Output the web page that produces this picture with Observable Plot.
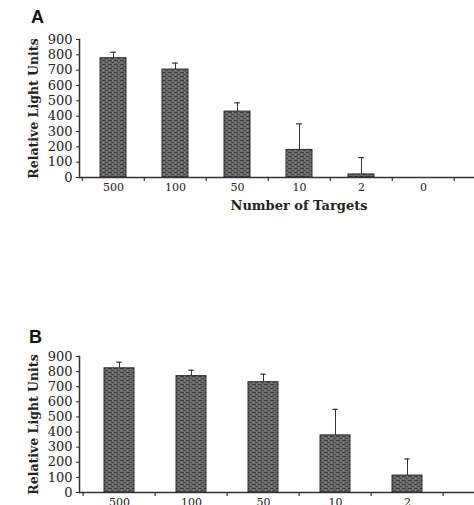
<!DOCTYPE html>
<html>
<head>
<meta charset="utf-8">
<script src="https://cdn.jsdelivr.net/npm/d3@7"></script>
<script src="https://cdn.jsdelivr.net/npm/@observablehq/plot@0.6"></script>
<style>
  html, body { margin: 0; padding: 0; background: #fff; overflow: hidden; }
  #wrap { position: relative; width: 474px; height: 505px; overflow: hidden; }
  .panel { position: absolute; left: 0; width: 520px; }
  .panel svg { max-width: none !important; width: 520px; height: auto; }
  .tag { position: absolute; font-family: "Liberation Sans", Arial, sans-serif; font-weight: bold; font-size: 18px; color: #111; line-height: 1; }
</style>
</head>
<body>
<div id="wrap"></div>
<script>
// Panel A
const catsA = ["500", "100", "50", "10", "2", "0", "5"];
const valsA = [778, 704, 430, 180, 20, 0, 0];
const errA  = [817, 746, 487, 350, 130, null, null];
// Panel B
const catsB = ["500", "100", "50", "10", "2", "0"];
const valsB = [822, 770, 730, 378, 112, 0];
const errB  = [862, 809, 783, 550, 222, null];
// Shared axis ticks
const yTicks = [0, 100, 200, 300, 400, 500, 600, 700, 800, 900];
const yLabel = "Relative Light Units";
const xLabel = "Number of Targets";

const W = 520, L = 79, R0 = 81, R1 = 518;

function addPattern(svg, id) {
  const ns = "http://www.w3.org/2000/svg";
  const defs = document.createElementNS(ns, "defs");
  const pat = document.createElementNS(ns, "pattern");
  pat.setAttribute("id", id);
  pat.setAttribute("patternUnits", "userSpaceOnUse");
  pat.setAttribute("width", "6");
  pat.setAttribute("height", "4");
  const parts = [
    [0, 0, 6, 4, "#6a6a6a"],
    [0, 0, 4, 1, "#3c3c3c"],
    [3, 2, 3, 1, "#4a4a4a"],
    [1, 2, 1, 1, "#8c8c8c"],
    [4, 0, 1, 1, "#8a8a8a"]
  ];
  for (const [x, y, w, h, c] of parts) {
    const r = document.createElementNS(ns, "rect");
    r.setAttribute("x", x); r.setAttribute("y", y);
    r.setAttribute("width", w); r.setAttribute("height", h);
    r.setAttribute("fill", c);
    pat.appendChild(r);
  }
  defs.appendChild(pat);
  svg.insertBefore(defs, svg.firstChild);
}

function panel(cats, vals, errs, o) {
  const data = cats.map((c, i) => ({cat: c, v: vals[i], e: errs[i]}));
  const step = (R1 - R0) / cats.length;
  const bw = step * 0.42;
  const capInset = (bw - 6) / 2;
  const pxPerUnit = (o.height - o.marginTop - o.marginBottom) / 900;
  const tickLen = 4 / pxPerUnit;
  const marks = [
    Plot.barY(data.filter(d => d.v > 0), {x: "cat", y: "v", fill: `url(#${o.pid})`, stroke: "#2a2a2a", strokeWidth: 1}),
    Plot.ruleX(data.filter(d => d.e != null), {x: "cat", y1: "v", y2: "e", stroke: "#333", strokeWidth: 1}),
    Plot.tickY(data.filter(d => d.e != null), {x: "cat", y: "e", stroke: "#333", strokeWidth: 1.2, insetLeft: capInset, insetRight: capInset}),
    Plot.ruleY([0], {stroke: "#333", strokeWidth: 1.5}),
    Plot.ruleX(cats, {x: d => d, dx: -step / 2, y1: 0, y2: -tickLen, stroke: "#333", strokeWidth: 1.2}),
    Plot.frame({anchor: "left", stroke: "#333", strokeWidth: 1.5}),
    Plot.axisY({ticks: yTicks, tickSize: 3, tickPadding: 4, fontSize: 13, label: null, tickFormat: d => String(d)}),
    Plot.axisX({tickSize: 0, tickPadding: 6, fontSize: 11, label: null}),
    Plot.text([yLabel], {frameAnchor: "left", textAnchor: "middle", dx: -46, rotate: -90, fontWeight: "bold", fontSize: 12.5, fill: "#222"})
  ];
  if (o.xTitle) {
    marks.push(Plot.text([o.xTitle], {frameAnchor: "bottom", dy: 32, fontWeight: "bold", fontSize: 13, fill: "#222"}));
  }
  const svg = Plot.plot({
    width: W,
    height: o.height,
    marginLeft: L,
    marginRight: W - R1,
    marginTop: o.marginTop,
    marginBottom: o.marginBottom,
    x: {type: "band", domain: cats, range: [R0, R1], paddingInner: 0.58, paddingOuter: 0.29},
    y: {domain: [0, 900]},
    style: {fontFamily: "DejaVu Serif", color: "#222", background: "transparent", overflow: "visible", maxWidth: "none"},
    marks
  });
  addPattern(svg, o.pid);
  return svg;
}

const wrap = document.getElementById("wrap");

const a = panel(catsA, valsA, errA, {height: 240, marginTop: 39, marginBottom: 63, xTitle: xLabel, pid: "stipA"});
const da = document.createElement("div"); da.className = "panel"; da.style.top = "0px"; da.appendChild(a); wrap.appendChild(da);

const b = panel(catsB, valsB, errB, {height: 265, marginTop: 116, marginBottom: 13, pid: "stipB"});
const db = document.createElement("div"); db.className = "panel"; db.style.top = "240px"; db.appendChild(b); wrap.appendChild(db);

const ta = document.createElement("div"); ta.className = "tag"; ta.textContent = "A"; ta.style.left = "31px"; ta.style.top = "8px"; wrap.appendChild(ta);
const tb = document.createElement("div"); tb.className = "tag"; tb.textContent = "B"; tb.style.left = "29px"; tb.style.top = "328px"; wrap.appendChild(tb);
</script>
</body>
</html>
